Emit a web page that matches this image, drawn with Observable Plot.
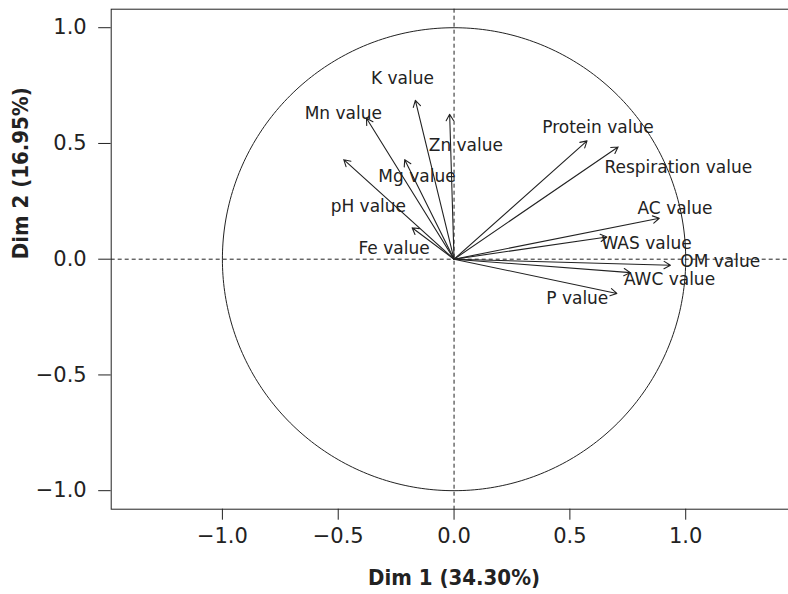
<!DOCTYPE html>
<html><head><meta charset="utf-8">
<script src="https://cdn.jsdelivr.net/npm/d3@7"></script>
<script src="https://cdn.jsdelivr.net/npm/@observablehq/plot@0.6"></script>
<style>body{margin:0;background:#fff;overflow:hidden}</style>
</head><body><div id="chart"></div>
<script>
const variables = ["K value","Mn value","Zn value","Mg value","pH value","Fe value","Protein value","Respiration value","AC value","WAS value","OM value","AWC value","P value"];
const dim1 = [-0.167,-0.378,-0.019,-0.213,-0.476,-0.181,0.574,0.708,0.886,0.660,0.934,0.761,0.703];
const dim2 = [0.686,0.609,0.626,0.430,0.430,0.136,0.511,0.485,0.177,0.096,-0.026,-0.058,-0.148];
const labelDim1 = [-0.223,-0.478,0.051,-0.160,-0.370,-0.259,0.621,0.968,0.954,0.831,1.149,0.930,0.532];
const labelDim2 = [0.782,0.628,0.489,0.355,0.227,0.047,0.568,0.395,0.220,0.067,-0.010,-0.086,-0.170];
const tickValues = [-1,-0.5,0,0.5,1];
const xTitle = "Dim 1 (34.30%)";
const yTitle = "Dim 2 (16.95%)";
const circleRadius = 1;

const arrows = variables.map((v,i)=>({name:v, x:dim1[i], y:dim2[i], lx:labelDim1[i], ly:labelDim2[i]}));
const circle = d3.range(0, 361).map(a => ({x: circleRadius*Math.cos(a*Math.PI/180), y: circleRadius*Math.sin(a*Math.PI/180)}));
const fmt = d3.format(".1f");
const ink = "#222";

const chart = Plot.plot({
  width: 788, height: 594,
  marginLeft: 110.7, marginTop: 8.7, marginBottom: 85.3, marginRight: -8.4,
  x: {domain: [-1.48, 1.48]},
  y: {domain: [-1.08, 1.08]},
  style: {fontFamily: "DejaVu Sans", background: "#fff", color: ink},
  marks: [
    Plot.ruleX([0], {stroke: ink, strokeDasharray: "4,3"}),
    Plot.ruleY([0], {stroke: ink, strokeDasharray: "4,3"}),
    Plot.line(circle, {x: "x", y: "y", stroke: ink, strokeWidth: 1}),
    Plot.arrow(arrows, {x1: d => 0, y1: d => 0, x2: "x", y2: "y", stroke: ink, strokeWidth: 1.1, headLength: 10}),
    Plot.text(arrows, {x: "lx", y: "ly", text: "name", fontSize: 17, fill: ink}),
    Plot.axisX(tickValues, {tickSize: 11, tickPadding: 8, fontSize: 21, tickFormat: fmt, label: null}),
    Plot.axisY(tickValues, {tickSize: 12.5, tickPadding: 12, fontSize: 21, tickFormat: fmt, label: null}),
    Plot.frame({stroke: ink}),
    Plot.text([xTitle], {text: d => d, frameAnchor: "bottom", dy: 76, fontSize: 22, fontWeight: "bold", fontFamily: "DejaVu Sans Condensed", fill: ink}),
    Plot.text([yTitle], {text: d => d, frameAnchor: "left", rotate: -90, dx: -90, fontSize: 22, fontWeight: "bold", fontFamily: "DejaVu Sans Condensed", fill: ink})
  ]
});
document.getElementById("chart").appendChild(chart);
</script>
</body></html>
